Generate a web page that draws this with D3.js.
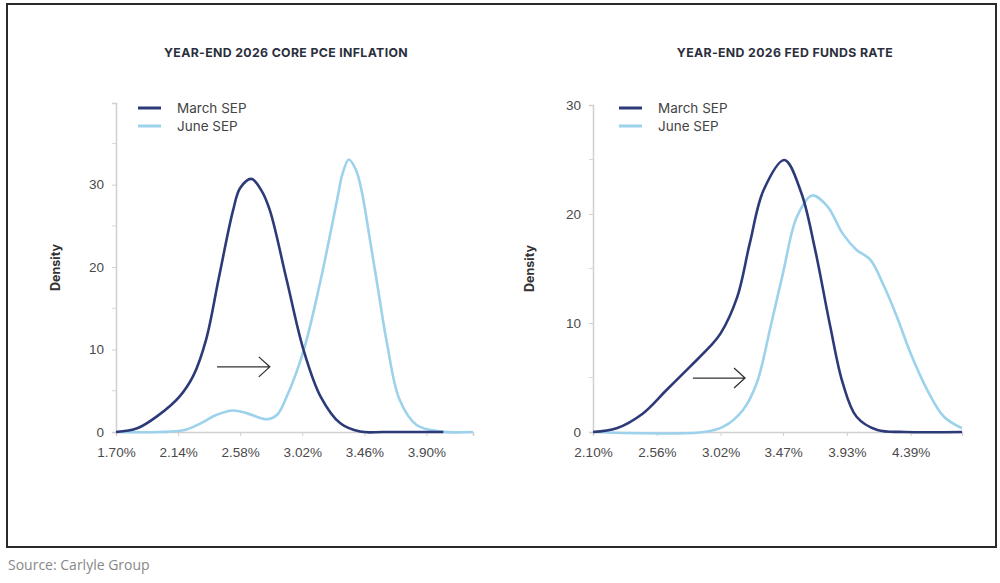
<!DOCTYPE html>
<meta charset="utf-8">
<style>
    body { margin: 0; background: #fff; }
    svg { font-family: Inter, "Open Sans", sans-serif; }
    .title { font-size: 12.3px; font-weight: 700; fill: #2b2f3d; letter-spacing: 0.35px; text-anchor: middle; }
    .ylab { font-size: 12.5px; font-weight: 700; fill: #333; text-anchor: middle; }
    .tick text { font-size: 13.5px; fill: #4a4a4a; }
    .legend text { font-size: 13.5px; fill: #444; }
    .source { font-family: "Open Sans", sans-serif; font-size: 14px; fill: #888; }
</style>
<svg id="chart" width="1000" height="583"></svg>
<script src="https://cdn.jsdelivr.net/npm/d3@7"></script>
<script>

    // ---- data ----
    var seriesNames = ["March SEP", "June SEP"];

    // left panel: core PCE
    var pceTicks = [1.70, 2.14, 2.58, 3.02, 3.46, 3.90];
    var pceMarchX = [1.70, 1.85, 1.99, 2.15, 2.25, 2.34, 2.43, 2.53, 2.58, 2.66, 2.73, 2.79, 2.91, 3.03, 3.15, 3.29, 3.43, 3.60, 4.02];
    var pceMarchY = [0, 0.45, 1.9, 4.3, 6.9, 11.3, 18.8, 26.9, 29.6, 30.7, 29.3, 26.9, 18.4, 9.9, 4.3, 1.05, 0.05, 0, 0];
    var pceJuneX = [1.70, 2.00, 2.18, 2.30, 2.41, 2.53, 2.63, 2.77, 2.84, 2.91, 3.03, 3.15, 3.21, 3.28, 3.30, 3.35, 3.40, 3.44, 3.50, 3.56, 3.62, 3.71, 3.83, 4.00, 4.23];
    var pceJuneY = [0, 0, 0.2, 1.05, 2.06, 2.6, 2.26, 1.54, 2.06, 4.3, 9.9, 18.4, 23.3, 29.3, 31.0, 33.05, 31.8, 29.3, 23.3, 17.0, 10.8, 3.9, 0.85, 0.05, 0];

    // right panel: fed funds
    var ffTicks = [2.10, 2.56, 3.02, 3.47, 3.93, 4.39];
    var ffMarchX = [2.10, 2.27, 2.46, 2.63, 2.80, 2.94, 3.02, 3.14, 3.23, 3.33, 3.48, 3.60, 3.70, 3.81, 3.90, 4.00, 4.15, 4.35, 4.76];
    var ffMarchY = [0, 0.34, 1.7, 3.85, 6.0, 7.8, 9.05, 12.4, 17.3, 22.2, 24.95, 22.0, 16.8, 9.7, 4.5, 1.4, 0.18, 0, 0];
    var ffJuneX = [2.10, 2.90, 3.04, 3.18, 3.28, 3.38, 3.47, 3.57, 3.68, 3.79, 3.90, 4.00, 4.10, 4.19, 4.29, 4.39, 4.51, 4.63, 4.76];
    var ffJuneY = [0, 0, 0.49, 2.0, 4.47, 9.66, 14.6, 19.75, 21.7, 20.7, 18.2, 16.7, 15.8, 13.6, 10.6, 7.2, 3.85, 1.4, 0.34];

    var colors = ["#2d3a78", "#9dd2ec"];

    var svg = d3.select("#chart");

    // frame + source
    svg.append("rect")
        .attr("x", 7).attr("y", 4)
        .attr("width", 989).attr("height", 543)
        .attr("fill", "none")
        .attr("stroke", "#2a2a2a")
        .attr("stroke-width", 2);

    svg.append("text")
        .attr("class", "source")
        .attr("x", 8).attr("y", 570)
        .text("Source: Carlyle Group");

    function zip(xs, ys) {
        return xs.map(function(x, i) { return { x: x, y: ys[i] }; });
    }

    function panel(opt) {
        var g = svg.append("g");

        var x = d3.scaleLinear().domain(opt.xDomain).range([opt.left, opt.right]);
        var y = d3.scaleLinear().domain(opt.yDomain).range([opt.bottom, opt.top]);

        g.append("text")
            .attr("class", "title")
            .attr("x", opt.titleX).attr("y", 57)
            .text(opt.title);

        // y axis
        var ya = g.append("g")
            .attr("transform", "translate(" + opt.left + ",0)")
            .call(d3.axisLeft(y).tickValues(opt.yTicks).tickSize(4).tickPadding(8).tickFormat(d3.format("d")));
        ya.select(".domain").attr("stroke", "#d0d0d0").attr("stroke-width", 1.5);
        ya.selectAll(".tick line").attr("stroke", "#d0d0d0");
        // minor ticks
        g.selectAll(".minor")
            .data(opt.yMinor)
            .enter().append("line")
            .attr("x1", opt.left - 4).attr("x2", opt.left)
            .attr("y1", function(d) { return y(d); })
            .attr("y2", function(d) { return y(d); })
            .attr("stroke", "#d8d8d8");

        // x axis
        var xa = g.append("g")
            .attr("transform", "translate(0," + opt.bottom + ")")
            .call(d3.axisBottom(x).tickValues(opt.xTicks).tickSize(4).tickPadding(11)
                .tickFormat(function(d) { return d.toFixed(2) + "%"; }));
        xa.select(".domain").attr("stroke", "#d0d0d0").attr("stroke-width", 1.5);
        xa.selectAll(".tick line").attr("stroke", "#d0d0d0");

        g.append("text")
            .attr("class", "ylab")
            .attr("transform", "translate(" + opt.ylabX + "," + (opt.bottom + opt.top) / 2 + ") rotate(-90)")
            .text("Density");

        var line = d3.line()
            .curve(d3.curveCatmullRom.alpha(0.5))
            .x(function(d) { return x(d.x); })
            .y(function(d) { return Math.min(y(d.y), opt.bottom); });

        // June drawn first, March on top
        [1, 0].forEach(function(i) {
            g.append("path")
                .datum(opt.series[i])
                .attr("fill", "none")
                .attr("stroke", colors[i])
                .attr("stroke-width", 2.6)
                .attr("stroke-linejoin", "round")
                .attr("d", line);
        });

        // arrow
        var ax0 = x(opt.arrow[0]), ax1 = x(opt.arrow[1]), ay = y(opt.arrow[2]);
        g.append("path")
            .attr("d", "M" + ax0 + "," + ay + "H" + ax1 +
                "M" + (ax1 - 11) + "," + (ay - 10) + "L" + ax1 + "," + ay + "L" + (ax1 - 11) + "," + (ay + 10))
            .attr("fill", "none")
            .attr("stroke", "#333")
            .attr("stroke-width", 1.3);

        // legend
        var lg = g.append("g").attr("class", "legend");
        seriesNames.forEach(function(name, i) {
            var ly = 108 + i * 18;
            lg.append("line")
                .attr("x1", opt.legendX).attr("x2", opt.legendX + 23)
                .attr("y1", ly).attr("y2", ly)
                .attr("stroke", colors[i])
                .attr("stroke-width", 3);
            lg.append("text")
                .attr("x", opt.legendX + 39).attr("y", ly + 5)
                .text(name);
        });
    }

    panel({
        title: "YEAR-END 2026 CORE PCE INFLATION",
        titleX: 286,
        left: 116, right: 473, top: 103, bottom: 432,
        xDomain: [1.70, 4.23], yDomain: [0, 39.9],
        xTicks: pceTicks, yTicks: [0, 10, 20, 30], yMinor: [5, 15, 25, 35],
        ylabX: 60,
        legendX: 138,
        arrow: [2.416, 2.79, 7.9],
        series: [zip(pceMarchX, pceMarchY), zip(pceJuneX, pceJuneY)]
    });

    panel({
        title: "YEAR-END 2026 FED FUNDS RATE",
        titleX: 785,
        left: 593, right: 962, top: 105, bottom: 432,
        xDomain: [2.10, 4.76], yDomain: [0, 30],
        xTicks: ffTicks, yTicks: [0, 10, 20, 30], yMinor: [5, 15, 25],
        ylabX: 534,
        legendX: 619,
        arrow: [2.82, 3.196, 4.95],
        series: [zip(ffMarchX, ffMarchY), zip(ffJuneX, ffJuneY)]
    });

</script>
